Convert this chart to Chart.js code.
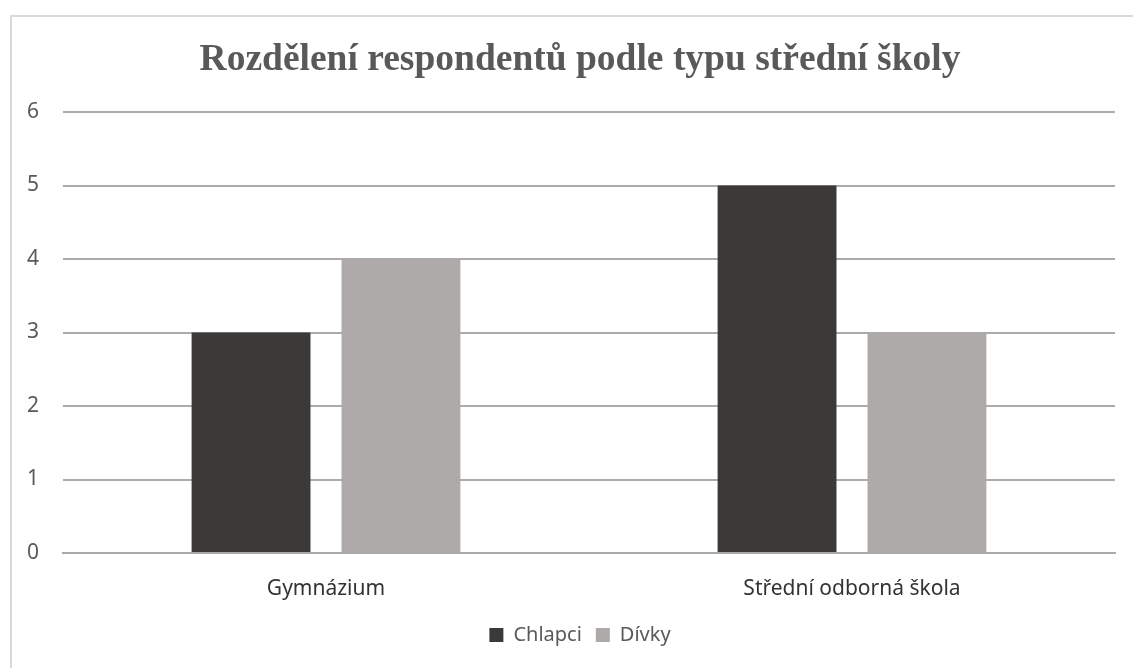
<!DOCTYPE html>
<html>
<head>
<meta charset="utf-8">
<script src="https://cdn.jsdelivr.net/npm/chart.js@4"></script>
<style>
    html, body { margin: 0; padding: 0; background: #fff; }
    #wrap { position: relative; width: 1133px; height: 668px; overflow: hidden; }
    #frame { position: absolute; left: 10px; top: 15px; width: 1200px; height: 700px;
             border-left: 2px solid #d9d9d9; border-top: 2px solid #d9d9d9; }
    canvas { position: absolute; left: 0; top: 0; }
</style>
</head>
<body>
<div id="wrap">
    <div id="frame"></div>
    <canvas id="skolaChart" width="1133" height="668"></canvas>
</div>
<script>
// Data
const categories = ['Gymnázium', 'Střední odborná škola'];
const chlapci = [3, 5];
const divky = [4, 3];
const seriesNames = ['Chlapci', 'Dívky'];
const yMin = 0, yMax = 6, yStep = 1;

const GRID = '#ababab';

function initChart() {
    const ctx = document.getElementById('skolaChart').getContext('2d');
    new Chart(ctx, {
        type: 'bar',
        data: {
            labels: categories,
            datasets: [{
                label: seriesNames[0],
                data: chlapci,
                backgroundColor: '#3b3a39',
                categoryPercentage: 0.57,
                barPercentage: 0.793
            }, {
                label: seriesNames[1],
                data: divky,
                backgroundColor: '#aeaaa9',
                categoryPercentage: 0.57,
                barPercentage: 0.793
            }]
        },
        options: {
            responsive: false,
            animation: false,
            layout: { padding: { left: 45, right: 18, top: 15, bottom: 13 } },
            plugins: {
                tooltip: { enabled: false },
                title: {
                    display: true,
                    text: 'Rozdělení respondentů podle typu střední školy',
                    color: '#595959',
                    font: { family: '"Liberation Serif", "Times New Roman", serif', size: 37.5, weight: 'bold' },
                    padding: { top: 23, bottom: 29 }
                },
                legend: {
                    position: 'bottom',
                    labels: {
                        color: '#595959',
                        font: { family: '"Noto Sans", sans-serif', size: 20 },
                        boxWidth: 14,
                        boxHeight: 14,
                        padding: 14
                    }
                }
            },
            scales: {
                x: {
                    afterFit: (scale) => { scale.height = 58; },
                    grid: { display: false, drawTicks: false },
                    border: { display: true, color: GRID, width: 2 },
                    ticks: {
                        color: '#333333',
                        font: { family: '"Noto Sans", sans-serif', size: 21 },
                        padding: 23
                    }
                },
                y: {
                    min: yMin,
                    max: yMax,
                    afterFit: (scale) => { scale.width = 18; },
                    grid: { color: GRID, lineWidth: 2, drawTicks: false },
                    border: { display: false },
                    ticks: {
                        stepSize: yStep,
                        mirror: true,
                        crossAlign: 'far',
                        color: '#595959',
                        font: { family: '"Noto Sans", sans-serif', size: 21 },
                        padding: -36
                    }
                }
            }
        }
    });
}

initChart();
</script>
</body>
</html>
